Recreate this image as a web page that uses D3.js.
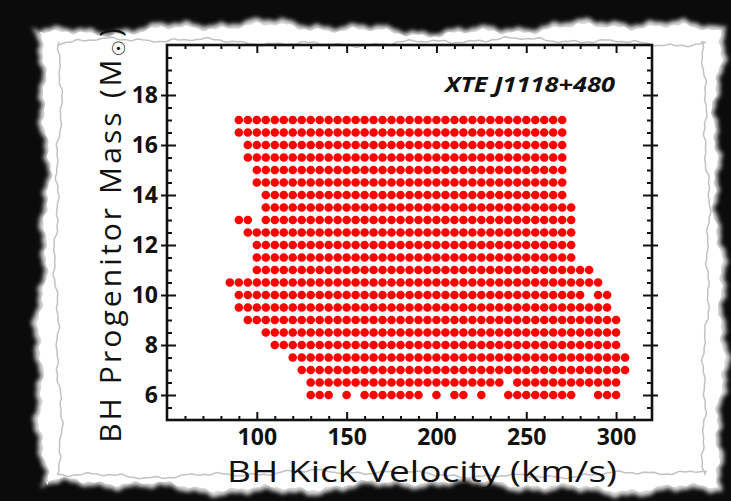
<!DOCTYPE html>
<html>
<head>
<meta charset="utf-8">
<script src="https://cdn.jsdelivr.net/npm/d3@7"></script>
<style>
  body { margin: 0; background: #0b0b0b; }
  svg { display: block; }
  .tick text { font-family: "Open Sans", sans-serif; font-weight: 700; font-size: 23px; fill: #111; }
</style>
</head>
<body>
<svg id="chart"></svg>
<script>
// velocity columns (km/s) and progenitor mass rows (Msun)
const velocityCols = [85, 90, 95, 100, 105, 110, 115, 120, 125, 130, 135, 140, 145, 150, 155,
                      160, 165, 170, 175, 180, 185, 190, 195, 200, 205, 210, 215, 220, 225, 230,
                      235, 240, 245, 250, 255, 260, 265, 270, 275, 280, 285, 290, 295, 300, 305];
const massRows = [17, 16.5, 16, 15.5, 15, 14.5, 14, 13.5, 13, 12.5, 12, 11.5,
                  11, 10.5, 10, 9.5, 9, 8.5, 8, 7.5, 7, 6.5, 6];
// '#' = allowed kick at that (velocity, mass), groups of 5 columns
const rowMasks = [
  ".#### ##### ##### ##### ##### ##### ##### ###.. .....", // 17
  ".#### ##### ##### ##### ##### ##### ##### ###.. .....", // 16.5
  "..### ##### ##### ##### ##### ##### ##### ###.. .....", // 16
  "..### ##### ##### ##### ##### ##### ##### ###.. .....", // 15.5
  "...## ##### ##### ##### ##### ##### ##### ###.. .....", // 15
  "...## ##### ##### ##### ##### ##### ##### ###.. .....", // 14.5
  "....# ##### ##### ##### ##### ##### ##### ###.. .....", // 14
  "....# ##### ##### ##### ##### ##### ##### ####. .....", // 13.5
  ".##.# ##### ##### ##### ##### ##### ##### ####. .....", // 13
  "..### ##### ##### ##### ##### ##### ##### ####. .....", // 12.5
  "...## ##### ##### ##### ##### ##### ##### ####. .....", // 12
  "...## ##### ##### ##### ##### ##### ##### ####. .....", // 11.5
  "...## ##### ##### ##### ##### ##### ##### ##### #....", // 11
  "##### ##### ##### ##### ##### ##### ##### ##### ##...", // 10.5
  ".#### ##### ##### ##### ##### ##### ##### ##### .##..", // 10
  ".#### ##### ##### ##### ##### ##### ##### ##### ###..", // 9.5
  "..### ##### ##### ##### ##### ##### ##### ##### ####.", // 9
  "....# ##### ##### ##### ##### ##### ##### ##### ####.", // 8.5
  "..... ##### ##### ##### ##### ##### ##### ##### ####.", // 8
  "..... ..### ##### ##### ##### ##### ##### ##### #####", // 7.5
  "..... ...## ##### ##### ##### ##### ##### ##### #####", // 7
  "..... ....# ##### ##### ##### ##### #.### ##### ####.", // 6.5
  "..... ....# ##.#. ##### ##.#. ##.#. .#### ####. .###."  // 6
];
const xMajorTicks = [100, 150, 200, 250, 300];
const yMajorTicks = [6, 8, 10, 12, 14, 16, 18];
const sourceName = "XTE J1118+480";

const W = 731, H = 501;
const box = { left: 167, right: 652, top: 45, bottom: 420 };

const svg = d3.select("#chart").attr("width", W).attr("height", H);
svg.append("rect").attr("width", W).attr("height", H).attr("fill", "#0b0b0b");

const defs = svg.append("defs");
defs.append("filter").attr("id", "soft")
  .append("feGaussianBlur").attr("stdDeviation", 2);
defs.append("filter").attr("id", "soft2")
  .append("feGaussianBlur").attr("stdDeviation", 0.6);

// torn paper outline (deterministic wobble)
function wob(t, s) {
  return 0.5 * Math.sin(t * 0.017 + s) + 0.3 * Math.sin(t * 0.061 + s * 2.1)
       + 0.2 * Math.sin(t * 0.19 + s * 1.3) + 0.1 * Math.sin(t * 0.53 + s * 0.6)
       + 0.05 * Math.sin(t * 1.7 + s * 3.7);
}
function tornPath(l, t, r, b, amp, s) {
  const pts = [];
  for (let x = l; x <= r; x += 3) pts.push([x, t + amp * wob(x, s)]);
  for (let y = t; y <= b; y += 3) pts.push([r + amp * wob(y, s + 1.7), y]);
  for (let x = r; x >= l; x -= 3) pts.push([x, b + amp * wob(x, s + 3.1)]);
  for (let y = b; y >= t; y -= 3) pts.push([l + amp * wob(y, s + 4.4), y]);
  return d3.line()(pts) + "Z";
}
svg.append("path")
  .attr("d", tornPath(40, 26, 722, 489, 9, 0.4))
  .attr("fill", "#dcdcdc")
  .attr("filter", "url(#soft)");
svg.append("path")
  .attr("d", tornPath(44, 30, 718, 485, 8, 0.4))
  .attr("fill", "#ffffff");
svg.append("path")
  .attr("d", tornPath(58, 42, 706, 474, 5, 2.2))
  .attr("fill", "none")
  .attr("stroke", "#c2c2c2")
  .attr("stroke-width", 1.5)
  .attr("filter", "url(#soft2)");

const x = d3.scaleLinear().domain([50, 320]).range([box.left, box.right]);
const y = d3.scaleLinear().domain([5, 20]).range([box.bottom, box.top]);

// points
const points = [];
rowMasks.forEach((mask, r) => {
  mask.replace(/ /g, "").split("").forEach((c, i) => {
    if (c === "#") points.push({ v: velocityCols[i], m: massRows[r] });
  });
});

svg.append("g").selectAll("circle")
  .data(points)
  .enter().append("circle")
  .attr("cx", d => x(d.v))
  .attr("cy", d => y(d.m))
  .attr("r", 4.3)
  .attr("fill", "#ff0000");

// axes
const xMinor = d3.range(60, 320, 10).filter(v => !xMajorTicks.includes(v));
const yMinor = d3.range(5.5, 20, 0.5).filter(v => !yMajorTicks.includes(v));

function addAxis(axisFn, scale, vals, size, transform, labels, pad) {
  const g = svg.append("g").attr("transform", transform)
    .call(axisFn(scale).tickValues(vals).tickSize(-size).tickSizeOuter(0)
      .tickPadding(pad || 0).tickFormat(labels ? d3.format("d") : ""));
  g.select(".domain").remove();
  g.selectAll("line").attr("stroke", "#111").attr("stroke-width", 2);
  return g;
}
addAxis(d3.axisBottom, x, xMajorTicks, 8, `translate(0,${box.bottom})`, true, 9);
addAxis(d3.axisBottom, x, xMinor, 4, `translate(0,${box.bottom})`, false);
addAxis(d3.axisTop, x, xMajorTicks, 8, `translate(0,${box.top})`, false);
addAxis(d3.axisTop, x, xMinor, 4, `translate(0,${box.top})`, false);
addAxis(d3.axisLeft, y, yMajorTicks, 9, `translate(${box.left},0)`, true, 9)
  .selectAll("line").attr("x1", -6);
addAxis(d3.axisLeft, y, yMinor, 5, `translate(${box.left},0)`, false);
addAxis(d3.axisRight, y, yMajorTicks, 9, `translate(${box.right},0)`, false)
  .selectAll("line").attr("x1", 6);
addAxis(d3.axisRight, y, yMinor, 5, `translate(${box.right},0)`, false);

svg.append("rect")
  .attr("x", box.left).attr("y", box.top)
  .attr("width", box.right - box.left).attr("height", box.bottom - box.top)
  .attr("fill", "none").attr("stroke", "#111").attr("stroke-width", 2.6);

// source label
svg.append("text")
  .attr("x", 615).attr("y", 92)
  .attr("text-anchor", "end")
  .attr("font-family", "Open Sans, sans-serif")
  .attr("font-weight", 700).attr("font-style", "italic")
  .attr("font-size", 22)
  .attr("fill", "#111")
  .attr("textLength", 170).attr("lengthAdjust", "spacingAndGlyphs")
  .text(sourceName);

// axis titles
svg.append("text")
  .attr("x", 422).attr("y", 482)
  .attr("text-anchor", "middle")
  .attr("font-family", "Open Sans, sans-serif")
  .attr("font-size", 30)
  .attr("fill", "#111")
  .attr("textLength", 390).attr("lengthAdjust", "spacingAndGlyphs")
  .text("BH Kick Velocity (km/s)");

const yt = svg.append("text")
  .attr("transform", "translate(121,234) rotate(-90)")
  .attr("text-anchor", "middle")
  .attr("font-family", "Open Sans, sans-serif")
  .attr("font-size", 30)
  .attr("letter-spacing", 3.1)
  .attr("fill", "#111");
yt.append("tspan").text("BH Progenitor Mass  (M");
yt.append("tspan").attr("font-family", "DejaVu Sans, sans-serif")
  .attr("font-size", 18).attr("dy", 4).text("\u2609");
yt.append("tspan").attr("dy", -4).text(")");
</script>
</body>
</html>
